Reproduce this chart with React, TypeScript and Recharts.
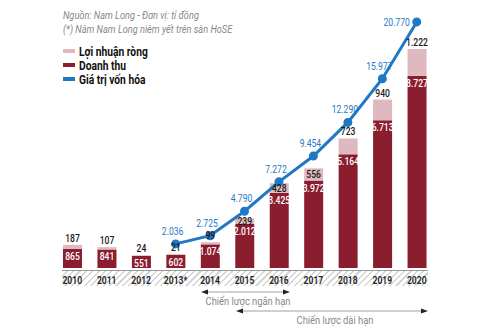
import {
  ComposedChart,
  Bar,
  Line,
  XAxis,
  YAxis,
  LabelList,
} from 'recharts';

const YEARS = ['2010', '2011', '2012', '2013*', '2014', '2015', '2016', '2017', '2018', '2019', '2020'];
const REVENUE = [865, 841, 551, 602, 1074, 2012, 3425, 3972, 5164, 6713, 8727];
const PROFIT = [187, 107, 24, 21, 99, 239, 428, 556, 723, 940, 1222];
const MARKET_CAP = [null, null, null, 2036, 2725, 4790, 7272, 9454, 12290, 15977, 20770];

// years whose profit label sits inside the pink block instead of above it
const PROFIT_INSIDE = ['2015', '2016', '2017'];

const DARK = '#8a1d2e';
const PINK = '#dfb9bf';
const BLUE = '#1f78c4';
const FONT = 'Roboto, "DejaVu Sans", sans-serif';

const data = YEARS.map((year, i) => ({
  year,
  revenue: REVENUE[i],
  profit: PROFIT[i],
  cap: MARKET_CAP[i],
}));

function fmt(v: number) {
  return String(v).replace(/\B(?=(\d{3})+(?!\d))/g, '.');
}

// narrow text: the source uses a condensed face we do not have
function NarrowText({ x, y, anchor = 'middle', size = 11, weight = 500, fill = '#222', sx = 0.78, children }: any) {
  return (
    <text
      transform={`translate(${x},${y}) scale(${sx},1)`}
      textAnchor={anchor}
      fontSize={size}
      fontWeight={weight}
      fill={fill}
      fontFamily={FONT}
    >
      {children}
    </text>
  );
}

function ProfitLabel(props: any) {
  const { x, y, width, height, value, index } = props;
  const inside = PROFIT_INSIDE.includes(YEARS[index]);
  const ty = inside ? y + height / 2 + 4 : y - 3;
  return <NarrowText x={x + width / 2} y={ty} fill="#1a1a1a">{fmt(value)}</NarrowText>;
}

function RevenueLabel(props: any) {
  const { x, y, width, value } = props;
  return <NarrowText x={x + width / 2} y={y + 11} fill="#fff">{fmt(value)}</NarrowText>;
}

function CapLabel(props: any) {
  const { x, y, value, index } = props;
  if (value == null) return null;
  const last = index === YEARS.length - 1;
  return (
    <NarrowText x={last ? x - 7 : x - 3} y={last ? y + 4 : y - 9} anchor={last ? 'end' : 'middle'} fill={BLUE} weight={400}>
      {fmt(value)}
    </NarrowText>
  );
}

function YearTick(props: any) {
  const { x, y, payload } = props;
  return <NarrowText x={x} y={y + 8} size={11} weight={600}>{payload.value}</NarrowText>;
}

const LEGEND_ITEMS = [
  { label: 'Lợi nhuận ròng', color: PINK },
  { label: 'Doanh thu', color: DARK },
  { label: 'Giá trị vốn hóa', color: BLUE },
];

function Arrow({ x1, x2, y }: { x1: number; x2: number; y: number }) {
  return (
    <g>
      <line x1={x1 + 6} x2={x2 - 6} y1={y} y2={y} stroke="#888" strokeWidth={0.8} />
      <polygon points={`${x1},${y} ${x1 + 7},${y - 2.5} ${x1 + 7},${y + 2.5}`} fill="#222" />
      <polygon points={`${x2},${y} ${x2 - 7},${y - 2.5} ${x2 - 7},${y + 2.5}`} fill="#222" />
    </g>
  );
}

export default function App() {
  return (
    <div style={{ position: 'absolute', left: 0, top: 0, width: 500, height: 330, background: '#fff', fontFamily: FONT }}>
      {/* hatched band under the years */}
      <div
        style={{
          position: 'absolute',
          left: 62,
          top: 270,
          width: 366,
          height: 15,
          borderTop: '1px solid #999',
          background: 'repeating-linear-gradient(135deg, #fff 0px, #fff 3px, #d6d6d6 3px, #d6d6d6 4.5px)',
        }}
      />
      <div style={{ position: 'absolute', left: 63, top: 10, fontSize: 10, fontStyle: 'italic', color: '#888', transform: 'scaleX(0.92)', transformOrigin: 'left' }}>
        Nguồn: Nam Long - Đơn vị: tỉ đồng
      </div>
      <div style={{ position: 'absolute', left: 63, top: 24, fontSize: 10, fontStyle: 'italic', color: '#888', transform: 'scaleX(0.92)', transformOrigin: 'left' }}>
        (*) Năm Nam Long niêm yết trên sàn HoSE
      </div>
      <div style={{ position: 'absolute', left: 63, top: 44 }}>
        {LEGEND_ITEMS.map((it) => (
          <div key={it.label} style={{ display: 'flex', alignItems: 'center', height: 14, fontSize: 12.5, fontWeight: 700, color: '#111' }}>
            <span style={{ width: 12, height: 4, background: it.color, marginRight: 4, display: 'inline-block' }} />
            <span style={{ transform: 'scaleX(0.82)', transformOrigin: 'left', whiteSpace: 'nowrap' }}>{it.label}</span>
          </div>
        ))}
      </div>
      <div style={{ position: 'absolute', left: 0, top: 0 }}>
        <ComposedChart width={500} height={330} data={data} margin={{ top: 18, right: 66, bottom: 44, left: 55 }}>
          <XAxis dataKey="year" axisLine={false} tickLine={false} tick={<YearTick />} height={18} interval={0} />
          <YAxis yAxisId="bar" hide domain={[0, 11360]} />
          <YAxis yAxisId="cap" hide domain={[0, 21100]} />
          <Bar yAxisId="bar" dataKey="revenue" stackId="a" fill={DARK} barSize={19} isAnimationActive={false}>
            <LabelList dataKey="revenue" content={<RevenueLabel />} />
          </Bar>
          <Bar yAxisId="bar" dataKey="profit" stackId="a" fill={PINK} barSize={19} isAnimationActive={false}>
            <LabelList dataKey="profit" content={<ProfitLabel />} />
          </Bar>
          <Line
            yAxisId="cap"
            dataKey="cap"
            stroke={BLUE}
            strokeWidth={3}
            dot={{ r: 3, fill: BLUE, stroke: BLUE }}
            isAnimationActive={false}
          >
            <LabelList dataKey="cap" content={<CapLabel />} />
          </Line>
        </ComposedChart>
      </div>
      <svg width={500} height={330} style={{ position: 'absolute', left: 0, top: 0, pointerEvents: 'none' }}>
        <Arrow x1={201} x2={290} y={292} />
        <NarrowText x={248} y={305} size={11} weight={400} fill="#888" sx={0.85}>Chiến lược ngắn hạn</NarrowText>
        <Arrow x1={236} x2={428} y={311} />
        <NarrowText x={335} y={324} size={11} weight={400} fill="#888" sx={0.85}>Chiến lược dài hạn</NarrowText>
      </svg>
    </div>
  );
}
